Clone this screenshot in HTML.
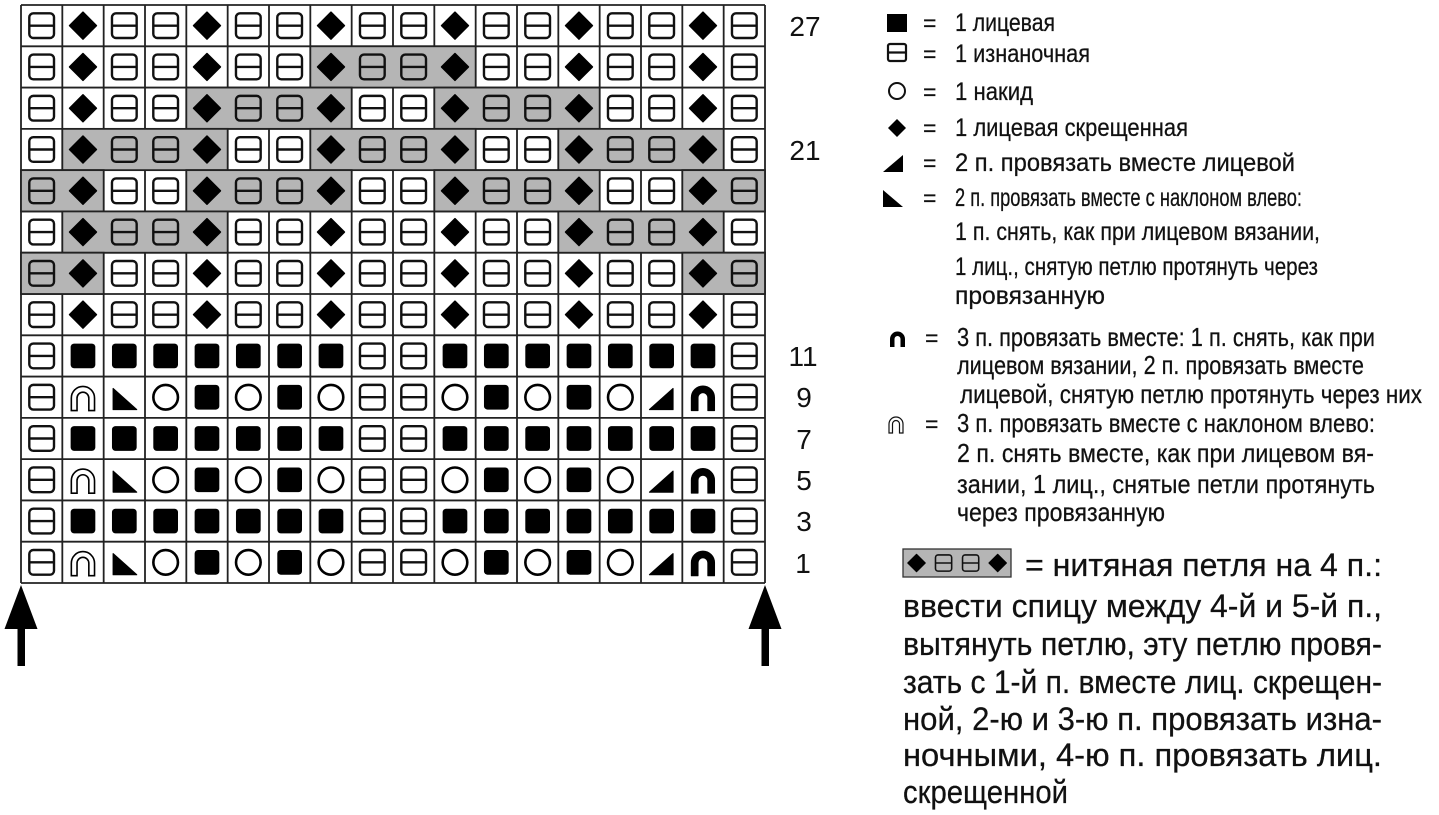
<!DOCTYPE html>
<html><head><meta charset="utf-8"><style>
html,body{margin:0;padding:0;background:#fff;}
svg{display:block;}
.t{font-family:"Liberation Sans Narrow","Liberation Sans","DejaVu Sans Condensed",sans-serif;fill:#111;stroke:#111;stroke-width:0.25;}
.n{font-family:"Liberation Sans",sans-serif;font-size:28px;fill:#111;text-anchor:middle;}
</style></head><body>
<svg width="1439" height="815" viewBox="0 0 1439 815" xmlns="http://www.w3.org/2000/svg">
<defs>
<g id="P"><rect x="8.3" y="8.3" width="24.7" height="24.7" rx="4" fill="none" stroke="#111" stroke-width="2.4"/><line x1="8.3" y1="20.65" x2="33" y2="20.65" stroke="#111" stroke-width="2.4"/></g>
<g id="K"><polygon points="20.65,7.2 34.1,20.65 20.65,34.1 7.2,20.65" fill="#000" stroke="#000" stroke-width="1.5" stroke-linejoin="round"/></g>
<g id="S"><rect x="8.3" y="8.3" width="24.7" height="24.7" rx="3.5" fill="#000"/></g>
<g id="O"><circle cx="20.65" cy="20.65" r="12.3" fill="none" stroke="#000" stroke-width="2.6"/></g>
<g id="TL"><path d="M9.5,12 L9.5,33 L33,33 Z" fill="#000" stroke="#000" stroke-width="1.2" stroke-linejoin="round"/></g>
<g id="TR"><path d="M32,12 L32,33 L8.5,33 Z" fill="#000" stroke="#000" stroke-width="1.2" stroke-linejoin="round"/></g>
<g id="AO"><path d="M9,34 V21.5 A11.6,11.6 0 0 1 32.2,21.5 V34 H26.5 V21.5 A5.9,5.9 0 0 0 14.7,21.5 V34 Z" fill="#fff" stroke="#000" stroke-width="1.6"/></g>
<g id="AF"><path d="M9,34 V21 A11.6,11.6 0 0 1 32.2,21 V34 H25.5 V21 A4.9,4.9 0 0 0 15.7,21 V34 Z" fill="#000" stroke="#000" stroke-width="1" stroke-linejoin="round"/></g>
<g id="rA">
<use href="#P" x="21"/><use href="#K" x="62.33"/><use href="#P" x="103.67"/><use href="#P" x="145"/><use href="#K" x="186.33"/><use href="#P" x="227.67"/><use href="#P" x="269"/><use href="#K" x="310.33"/><use href="#P" x="351.67"/><use href="#P" x="393"/><use href="#K" x="434.33"/><use href="#P" x="475.67"/><use href="#P" x="517"/><use href="#K" x="558.33"/><use href="#P" x="599.67"/><use href="#P" x="641"/><use href="#K" x="682.33"/><use href="#P" x="723.67"/>
</g>
<g id="rB">
<use href="#P" x="21"/><use href="#S" x="62.33"/><use href="#S" x="103.67"/><use href="#S" x="145"/><use href="#S" x="186.33"/><use href="#S" x="227.67"/><use href="#S" x="269"/><use href="#S" x="310.33"/><use href="#P" x="351.67"/><use href="#P" x="393"/><use href="#S" x="434.33"/><use href="#S" x="475.67"/><use href="#S" x="517"/><use href="#S" x="558.33"/><use href="#S" x="599.67"/><use href="#S" x="641"/><use href="#S" x="682.33"/><use href="#P" x="723.67"/>
</g>
<g id="rC">
<use href="#P" x="21"/><use href="#AO" x="62.33"/><use href="#TL" x="103.67"/><use href="#O" x="145"/><use href="#S" x="186.33"/><use href="#O" x="227.67"/><use href="#S" x="269"/><use href="#O" x="310.33"/><use href="#P" x="351.67"/><use href="#P" x="393"/><use href="#O" x="434.33"/><use href="#S" x="475.67"/><use href="#O" x="517"/><use href="#S" x="558.33"/><use href="#O" x="599.67"/><use href="#TR" x="641"/><use href="#AF" x="682.33"/><use href="#P" x="723.67"/>
</g>
</defs>

<!-- grid lines -->
<g stroke="#222" stroke-width="1.8">
<line x1="21" y1="5" x2="765" y2="5"/><line x1="21" y1="46.29" x2="765" y2="46.29"/><line x1="21" y1="87.57" x2="765" y2="87.57"/><line x1="21" y1="128.86" x2="765" y2="128.86"/><line x1="21" y1="170.14" x2="765" y2="170.14"/><line x1="21" y1="211.43" x2="765" y2="211.43"/><line x1="21" y1="252.71" x2="765" y2="252.71"/><line x1="21" y1="294" x2="765" y2="294"/><line x1="21" y1="335.29" x2="765" y2="335.29"/><line x1="21" y1="376.57" x2="765" y2="376.57"/><line x1="21" y1="417.86" x2="765" y2="417.86"/><line x1="21" y1="459.14" x2="765" y2="459.14"/><line x1="21" y1="500.43" x2="765" y2="500.43"/><line x1="21" y1="541.71" x2="765" y2="541.71"/><line x1="21" y1="583" x2="765" y2="583"/>
<line x1="21" y1="5" x2="21" y2="583"/><line x1="62.33" y1="5" x2="62.33" y2="583"/><line x1="103.67" y1="5" x2="103.67" y2="583"/><line x1="145" y1="5" x2="145" y2="583"/><line x1="186.33" y1="5" x2="186.33" y2="583"/><line x1="227.67" y1="5" x2="227.67" y2="583"/><line x1="269" y1="5" x2="269" y2="583"/><line x1="310.33" y1="5" x2="310.33" y2="583"/><line x1="351.67" y1="5" x2="351.67" y2="583"/><line x1="393" y1="5" x2="393" y2="583"/><line x1="434.33" y1="5" x2="434.33" y2="583"/><line x1="475.67" y1="5" x2="475.67" y2="583"/><line x1="517" y1="5" x2="517" y2="583"/><line x1="558.33" y1="5" x2="558.33" y2="583"/><line x1="599.67" y1="5" x2="599.67" y2="583"/><line x1="641" y1="5" x2="641" y2="583"/><line x1="682.33" y1="5" x2="682.33" y2="583"/><line x1="723.67" y1="5" x2="723.67" y2="583"/><line x1="765" y1="5" x2="765" y2="583"/>
</g>

<!-- shading (over grid, no inner lines) -->
<g fill="#b5b5b5" stroke="#222" stroke-width="1.8">
<rect x="310.33" y="46.29" width="165.33" height="41.29"/>
<rect x="186.33" y="87.57" width="165.33" height="41.29"/>
<rect x="434.33" y="87.57" width="165.33" height="41.29"/>
<rect x="62.33" y="128.86" width="165.33" height="41.29"/>
<rect x="310.33" y="128.86" width="165.33" height="41.29"/>
<rect x="558.33" y="128.86" width="165.33" height="41.29"/>
<rect x="21" y="170.14" width="82.67" height="41.29"/>
<rect x="186.33" y="170.14" width="165.33" height="41.29"/>
<rect x="434.33" y="170.14" width="165.33" height="41.29"/>
<rect x="682.33" y="170.14" width="82.67" height="41.29"/>
<rect x="62.33" y="211.43" width="165.33" height="41.29"/>
<rect x="558.33" y="211.43" width="165.33" height="41.29"/>
<rect x="21" y="252.71" width="82.67" height="41.29"/>
<rect x="682.33" y="252.71" width="82.67" height="41.29"/>
</g>

<!-- symbols -->
<use href="#rA" y="5"/><use href="#rA" y="46.29"/><use href="#rA" y="87.57"/><use href="#rA" y="128.86"/><use href="#rA" y="170.14"/><use href="#rA" y="211.43"/><use href="#rA" y="252.71"/><use href="#rA" y="294"/>
<use href="#rB" y="335.29"/><use href="#rC" y="376.57"/><use href="#rB" y="417.86"/><use href="#rC" y="459.14"/><use href="#rB" y="500.43"/><use href="#rC" y="541.71"/>

<!-- arrows -->
<polygon points="21,585 37.5,629 4.5,629" fill="#000"/><rect x="17.5" y="626" width="7.5" height="40" fill="#000"/>
<polygon points="765,585 781.5,629 748.5,629" fill="#000"/><rect x="761.5" y="626" width="7.5" height="40" fill="#000"/>

<!-- row numbers -->
<text class="n" x="805" y="36">27</text>
<text class="n" x="805" y="160">21</text>
<text class="n" x="803" y="366">11</text>
<text class="n" x="804" y="407">9</text>
<text class="n" x="804" y="449">7</text>
<text class="n" x="804" y="490">5</text>
<text class="n" x="804" y="531">3</text>
<text class="n" x="803" y="573">1</text>

<!-- legend symbols -->
<rect x="887" y="14" width="20" height="18" fill="#000"/>
<rect x="888" y="44" width="18" height="17" rx="2" fill="none" stroke="#111" stroke-width="2.2"/><line x1="888" y1="52.5" x2="906" y2="52.5" stroke="#111" stroke-width="2.2"/>
<circle cx="897" cy="91" r="8" fill="none" stroke="#111" stroke-width="2"/>
<polygon points="897,119 906,128 897,137 888,128" fill="#000"/>
<polygon points="903,155 903,172 883,172" fill="#000"/>
<polygon points="883,190 883,207 903,207" fill="#000"/>
<path d="M890,347 V339 A7.5,7.5 0 0 1 905,339 V347 H900.5 V339 A3,3 0 0 0 894.5,339 V347 Z" fill="#000"/>
<path d="M889,433 V424 A7,7 0 0 1 903,424 V433 H899.5 V424 A3.5,3.5 0 0 0 892.5,424 V433 Z" fill="#fff" stroke="#111" stroke-width="1.2"/>

<g class="t" font-size="25">
<text x="923" y="31" font-size="23">=</text><text x="955" y="31" textLength="100" lengthAdjust="spacingAndGlyphs">1 лицевая</text>
<text x="923" y="62" font-size="23">=</text><text x="955" y="62" textLength="135" lengthAdjust="spacingAndGlyphs">1 изнаночная</text>
<text x="923" y="100" font-size="23">=</text><text x="955" y="100" textLength="78" lengthAdjust="spacingAndGlyphs">1 накид</text>
<text x="923" y="136" font-size="23">=</text><text x="955" y="136" textLength="233" lengthAdjust="spacingAndGlyphs">1 лицевая скрещенная</text>
<text x="923" y="171" font-size="23">=</text><text x="955" y="171" textLength="340" lengthAdjust="spacingAndGlyphs">2 п. провязать вместе лицевой</text>
<text x="923" y="206" font-size="23">=</text><text x="955" y="206" textLength="347" lengthAdjust="spacingAndGlyphs">2 п. провязать вместе с наклоном влево:</text>
<text x="955" y="240" textLength="365" lengthAdjust="spacingAndGlyphs">1 п. снять, как при лицевом вязании,</text>
<text x="955" y="275" textLength="363" lengthAdjust="spacingAndGlyphs">1 лиц., снятую петлю протянуть через</text>
<text x="955" y="304" textLength="150" lengthAdjust="spacingAndGlyphs">провязанную</text>
</g>
<g class="t" font-size="26">
<text x="925" y="346" font-size="23">=</text><text x="957" y="346" textLength="418" lengthAdjust="spacingAndGlyphs">3 п. провязать вместе: 1 п. снять, как при</text>
<text x="957" y="374" textLength="407" lengthAdjust="spacingAndGlyphs">лицевом вязании, 2 п. провязать вместе</text>
<text x="960" y="403" textLength="462" lengthAdjust="spacingAndGlyphs">лицевой, снятую петлю протянуть через них</text>
<text x="925" y="432" font-size="23">=</text><text x="957" y="432" textLength="418" lengthAdjust="spacingAndGlyphs">3 п. провязать вместе с наклоном влево:</text>
<text x="957" y="462" textLength="417" lengthAdjust="spacingAndGlyphs">2 п. снять вместе, как при лицевом вя-</text>
<text x="957" y="493" textLength="418" lengthAdjust="spacingAndGlyphs">зании, 1 лиц., снятые петли протянуть</text>
<text x="957" y="521" textLength="208" lengthAdjust="spacingAndGlyphs">через провязанную</text>
</g>

<!-- legend box -->
<rect x="903" y="549" width="108" height="28" fill="#b5b5b5" stroke="#333" stroke-width="1.3"/>
<g transform="translate(903,549.5) scale(0.655)">
<use href="#K" x="0"/><use href="#P" x="41.3"/><use href="#P" x="82.6"/><use href="#K" x="123.9"/>
</g>

<g class="t" font-size="32">
<text x="1025" y="576" textLength="357" lengthAdjust="spacingAndGlyphs">= нитяная петля на 4 п.:</text>
<text x="903" y="617" textLength="479" lengthAdjust="spacingAndGlyphs">ввести спицу между 4-й и 5-й п.,</text>
<text x="903" y="655" textLength="479" lengthAdjust="spacingAndGlyphs">вытянуть петлю, эту петлю провя-</text>
<text x="903" y="693" textLength="479" lengthAdjust="spacingAndGlyphs">зать с 1-й п. вместе лиц. скрещен-</text>
<text x="903" y="730" textLength="479" lengthAdjust="spacingAndGlyphs">ной, 2-ю и 3-ю п. провязать изна-</text>
<text x="903" y="766" textLength="479" lengthAdjust="spacingAndGlyphs">ночными, 4-ю п. провязать лиц.</text>
<text x="903" y="803" textLength="165" lengthAdjust="spacingAndGlyphs">скрещенной</text>
</g>
</svg>
</body></html>
